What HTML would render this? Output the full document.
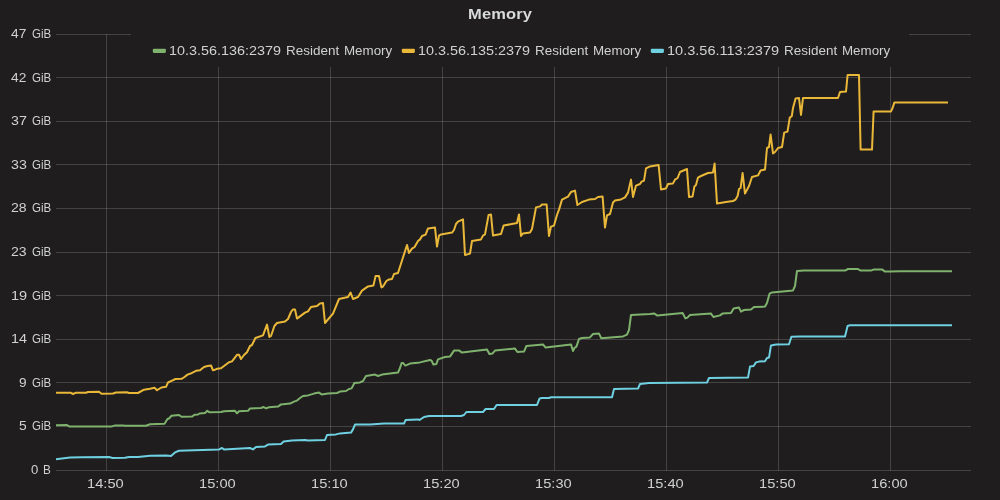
<!DOCTYPE html>
<html><head><meta charset="utf-8"><title>Memory</title>
<style>
html,body{margin:0;padding:0;}
body{width:1000px;height:500px;background:#1f1d1e;overflow:hidden;position:relative;font-family:"Liberation Sans",sans-serif;color:#d0d1d2;}
#title{position:absolute;left:0;width:1000px;top:5px;text-align:center;font-weight:bold;font-size:15px;line-height:18px;color:#d8d9da;}
#title span{display:inline-block;transform:scaleX(1.1);letter-spacing:0.1px;}
svg{position:absolute;left:0;top:0;}
#txt{position:absolute;left:0;top:0;width:1000px;height:500px;will-change:transform;}
.p{position:absolute;font-size:13px;line-height:16px;white-space:nowrap;transform-origin:0 0;}
</style></head>
<body>
<svg width="1000" height="500" viewBox="0 0 1000 500">
<g fill="#c8c8c8" fill-opacity="0.22" shape-rendering="crispEdges"><rect x="56" y="34" width="915" height="1"/><rect x="56" y="77" width="915" height="1"/><rect x="56" y="121" width="915" height="1"/><rect x="56" y="164" width="915" height="1"/><rect x="56" y="208" width="915" height="1"/><rect x="56" y="252" width="915" height="1"/><rect x="56" y="295" width="915" height="1"/><rect x="56" y="339" width="915" height="1"/><rect x="56" y="382" width="915" height="1"/><rect x="56" y="426" width="915" height="1"/><rect x="56" y="470" width="915" height="1"/><rect x="106" y="34" width="1" height="437"/><rect x="218" y="34" width="1" height="437"/><rect x="330" y="34" width="1" height="437"/><rect x="442" y="34" width="1" height="437"/><rect x="554" y="34" width="1" height="437"/><rect x="666" y="34" width="1" height="437"/><rect x="778" y="34" width="1" height="437"/><rect x="890" y="34" width="1" height="437"/></g>
<rect x="131" y="30" width="778" height="37" fill="#1f1d1e"/>
<g fill="none" stroke-width="2" stroke-linejoin="round" stroke-linecap="butt">
<polyline stroke="#7eb26d" points="56,425.2 67,425 69.5,426.6 112,426.4 114.5,425.6 123,425.4 125,425.8 146,425.8 150,424.2 164.5,423.8 167.5,419 169,418.5 171.5,415.8 179,415 181.5,416.8 192,416.6 194.5,414.8 198,414.5 199.5,413.5 205,413 207.3,410.8 209.5,412.3 221,412 224,411.2 235,410.8 237,413.3 239,411.3 248,410.8 250,408.5 261,408 263.6,407 266,408.4 269,407.2 278,406.6 281,404.4 290,403.6 294,401.6 297,400.6 300,398 303,396 308,395.4 314,393.6 319,392.6 321.6,394.4 328,393.6 337,393 340,391.6 346,391 349,389 351.6,388.4 354.4,383 360,382.4 363,381 366,376 375,374.6 378,376 382,374.6 398,372.6 400,368 401.6,363 403,363 405.4,365.6 410,363.6 420,362.4 430,360 431.6,360.6 433.4,364.6 436.4,364 438,359.4 445,357 450,356.6 454,350.6 459,350.4 462,352.6 487,349.6 489.4,354 492.4,353.6 495,350.6 515,348.6 517.4,352 524,351.6 526.4,346 543,344.4 545.6,347.6 571,344.4 573,351 574.4,348 576.4,346.6 579,339 582,338 590,337.4 593,334 599,333.6 601.3,338.2 623,336.4 627,334.6 629,330 631,315 650,314 654.4,313.6 657.4,315.6 682.6,313 685.4,318.4 687.4,317.6 690,315 711,313.6 713.4,317 720,315.4 722.4,313.6 731,313 733.6,308.4 739,307.6 741,311.6 744,310 751,309.6 754,307 765,306.6 767,303 769.6,293.6 772,292.4 793,290.4 795,286 797,271 804,270.6 845,270.6 848,269 858,269 860.6,270.6 871,270.6 874,269.4 882,269.4 885,271.6 890,271.6 900,271.2 952,271.2"/>
<polyline stroke="#eab839" points="56,392.8 70.5,392.7 73,394 75.5,392.8 86,392.7 88,392 99,391.8 101.5,393.8 113,393.5 116,392.5 127,392.2 129,393 138,393 144,389.7 150,388.7 154.5,387.8 157,390.2 161.5,387.5 166,386.8 168,382.5 172,380.6 175.5,379 181.5,378.8 184.5,377 187.5,374.6 190,373.8 196,370.8 200,370.2 204,367 207.5,366 211,365.5 213,370.3 215,369.7 217,368.8 221,368.3 224,366 229,362.2 232,361.4 237,354.8 239,354.8 241,359 244,355 247,352.2 250,346 252,345 255.4,338 263,335.4 267,324.6 269.4,337 271,336 274.4,326 277,323 285,321.6 288,319 291,312 293,309.4 295,309.4 297,318.6 305,312.6 308,311.4 311,307 317,306 320,303.4 323,303 325,323 333,313.6 339,299 348,297 350.6,292.6 353,299 358,297 362,290.6 368,286.4 373.4,285.6 375.6,276 379,276 381.4,287.4 383,286.6 386.4,281 389,279.4 392,279 394,274 398,273 407,245 409,253 412,248.6 414.6,247 418,241 420,239.4 422,236 425.6,234.6 428,228.4 435,227.6 437,246.6 439,235.6 441,234.4 452,232.6 454,230 456,224 458,221.6 463,219.4 465,255 470,253.6 472,241 481,239.4 483,235.6 485,234.4 488.6,215 491,214.6 493,235.6 501,234 503.6,225.6 517,223 519,214.4 521,236 523,233.4 530,232.4 532,229 536,207.4 540,206.4 542,204.6 546.6,204.4 549,236 551,226.6 554,225.6 557,215 559,209.6 562,199.6 568,196.6 571,192 575,190.6 577.4,205 579,204 582,202 589,199.6 595,199 598,197 602.6,196.6 605,227.6 607,215.4 610,214 613,202.4 615,200.6 621,199.4 625,197.4 628,192.6 631,179.6 633,197 636,185.6 640,184 641.6,181.6 644,180.6 646,168.4 650,166.4 658.6,165 661,189.4 666,188.4 668,184 673,183.4 675,179.6 677.6,178 680,172 687,169 689,197 692.6,196.4 694.4,186.4 696,185 698,177.6 701,176 708,173 713,172.4 714.6,163.6 717,203.6 726,202 733,201 735.6,199.6 737.6,196 739,189 740.6,188 742.6,173 745,193.6 749,186 752,177 758,175.4 760.6,170.6 765,169.6 767,148 769,147 770.6,134.6 773,153.4 775,152 778,148 782,147 784.2,132.6 787.5,131.6 789.8,117.5 791.8,116.2 793,108 795.6,98.4 799,98 801,115 803,98 838,98 840,92 846,91.6 847.6,75 859,75 860.6,149.6 872,149.6 873.6,111.4 891,111.4 892.6,108 894.4,102.4 948,102.4"/>
<polyline stroke="#6ed0e0" points="56,459.2 70,457.5 82,457.3 109,457 112.5,458 125,457.8 129,457 138,457 150,455.7 166,455.6 171,456 175,452.4 179,450.8 194,450.2 219,449.4 222,448 224,449.4 250,448 253,449.4 256,447 265,446.4 268,444.6 281,444 283.6,441.6 292,440.6 305,440 308,440.6 325,440 327,435 336,434.4 340,433.4 351,432.6 353,429.4 355,424.6 370,424.4 384,423.6 404,423.6 405.6,420 418,419.4 419.6,420 424,417 429,416 461,416 464,415 466.4,412 483,412 485.6,409 494,409 496.6,405 537,405 539.6,398.4 542,398 549,398 551,397.2 612,397.2 614,389 638,388.6 640,384 649,383 707,382.6 709,378 748,377.6 750,366.6 753.6,366 756,362.4 759,361.6 765,361.2 767,358 769,357.6 771,345.4 776,344.6 789,344.2 791.4,336.8 800,336.6 845,336.6 847.6,326 850,325.3 952,325.3"/>
</g>
<rect x="152.8" y="48.7" width="13.1" height="4.2" rx="1.1" fill="#7eb26d"/><rect x="401.8" y="48.7" width="13.1" height="4.2" rx="1.1" fill="#eab839"/><rect x="650.8" y="48.7" width="13.1" height="4.2" rx="1.1" fill="#6ed0e0"/>
</svg>
<div id="txt">
<div id="title"><span>Memory</span></div>
<span class="p" style="left:11.43px;top:26px;transform:scaleX(1.0588)">47</span>
<span class="p" style="left:31.54px;top:26px;transform:scaleX(0.8868)">GiB</span>
<span class="p" style="left:11.43px;top:70px;transform:scaleX(1.0588)">42</span>
<span class="p" style="left:31.54px;top:70px;transform:scaleX(0.8868)">GiB</span>
<span class="p" style="left:10.95px;top:113px;transform:scaleX(1.0935)">37</span>
<span class="p" style="left:31.54px;top:113px;transform:scaleX(0.8868)">GiB</span>
<span class="p" style="left:10.95px;top:157px;transform:scaleX(1.0919)">33</span>
<span class="p" style="left:31.54px;top:157px;transform:scaleX(0.8868)">GiB</span>
<span class="p" style="left:11.04px;top:200px;transform:scaleX(1.0838)">28</span>
<span class="p" style="left:31.54px;top:200px;transform:scaleX(0.8868)">GiB</span>
<span class="p" style="left:11.04px;top:244px;transform:scaleX(1.0854)">23</span>
<span class="p" style="left:31.54px;top:244px;transform:scaleX(0.8868)">GiB</span>
<span class="p" style="left:10.58px;top:288px;transform:scaleX(1.1205)">19</span>
<span class="p" style="left:31.54px;top:288px;transform:scaleX(0.8868)">GiB</span>
<span class="p" style="left:10.59px;top:331px;transform:scaleX(1.1077)">14</span>
<span class="p" style="left:31.54px;top:331px;transform:scaleX(0.8868)">GiB</span>
<span class="p" style="left:19.15px;top:375px;transform:scaleX(1.0493)">9</span>
<span class="p" style="left:31.54px;top:375px;transform:scaleX(0.8868)">GiB</span>
<span class="p" style="left:19.02px;top:418px;transform:scaleX(1.0639)">5</span>
<span class="p" style="left:31.54px;top:418px;transform:scaleX(0.8868)">GiB</span>
<span class="p" style="left:31.21px;top:462px;transform:scaleX(1.0078)">0</span>
<span class="p" style="left:42.85px;top:462px;transform:scaleX(0.9014)">B</span>
<span class="p" style="left:87.27px;top:476px;transform:scaleX(1.1277)">14:50</span>
<span class="p" style="left:199.27px;top:476px;transform:scaleX(1.1277)">15:00</span>
<span class="p" style="left:311.27px;top:476px;transform:scaleX(1.1277)">15:10</span>
<span class="p" style="left:423.27px;top:476px;transform:scaleX(1.1277)">15:20</span>
<span class="p" style="left:535.27px;top:476px;transform:scaleX(1.1277)">15:30</span>
<span class="p" style="left:647.27px;top:476px;transform:scaleX(1.1277)">15:40</span>
<span class="p" style="left:759.27px;top:476px;transform:scaleX(1.1277)">15:50</span>
<span class="p" style="left:871.27px;top:476px;transform:scaleX(1.1277)">16:00</span>
<span class="p" style="left:169.39px;top:43px;transform:scaleX(1.1067)">10.3.56.136:2379</span>
<span class="p" style="left:285.66px;top:43px;transform:scaleX(1.0356)">Resident</span>
<span class="p" style="left:343.92px;top:43px;transform:scaleX(1.0269)">Memory</span>
<span class="p" style="left:418.39px;top:43px;transform:scaleX(1.1067)">10.3.56.135:2379</span>
<span class="p" style="left:534.66px;top:43px;transform:scaleX(1.0356)">Resident</span>
<span class="p" style="left:592.92px;top:43px;transform:scaleX(1.0269)">Memory</span>
<span class="p" style="left:667.38px;top:43px;transform:scaleX(1.1179)">10.3.56.113:2379</span>
<span class="p" style="left:783.66px;top:43px;transform:scaleX(1.0356)">Resident</span>
<span class="p" style="left:841.92px;top:43px;transform:scaleX(1.0269)">Memory</span>

</div>
</body></html>
